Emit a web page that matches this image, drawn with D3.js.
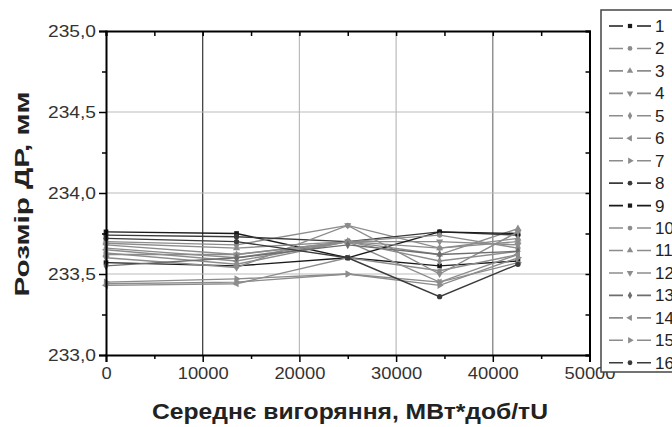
<!DOCTYPE html>
<html>
<head>
<meta charset="utf-8">
<script src="https://cdn.jsdelivr.net/npm/d3@7"></script>
<style>
body { margin: 0; background: #fff; }
text { font-family: "Liberation Sans", Arial, sans-serif; }
</style>
</head>
<body>
<script>
var burnup = [0, 13500, 25000, 34500, 42600];
var names = ["1","2","3","4","5","6","7","8","9","10","11","12","13","14","15","16"];
var s1  = [233.76, 233.75, 233.60, 233.55, 233.58];
var s2  = [233.70, 233.68, 233.80, 233.66, 233.70];
var s3  = [233.69, 233.66, 233.70, 233.62, 233.78];
var s4  = [233.68, 233.62, 233.70, 233.70, 233.68];
var s5  = [233.66, 233.60, 233.70, 233.58, 233.64];
var s6  = [233.65, 233.58, 233.70, 233.45, 233.62];
var s7  = [233.44, 233.45, 233.50, 233.43, 233.60];
var s8  = [233.74, 233.73, 233.70, 233.76, 233.74];
var s9  = [233.57, 233.55, 233.60, 233.76, 233.75];
var s10 = [233.63, 233.56, 233.70, 233.74, 233.66];
var s11 = [233.62, 233.62, 233.70, 233.66, 233.72];
var s12 = [233.60, 233.54, 233.80, 233.50, 233.76];
var s13 = [233.55, 233.60, 233.68, 233.62, 233.64];
var s14 = [233.43, 233.44, 233.60, 233.52, 233.62];
var s15 = [233.45, 233.47, 233.50, 233.45, 233.57];
var s16 = [233.72, 233.70, 233.60, 233.36, 233.56];
var allSeries = [s1,s2,s3,s4,s5,s6,s7,s8,s9,s10,s11,s12,s13,s14,s15,s16];
var xTicks = [0, 10000, 20000, 30000, 40000, 50000];
var yTicks = [233.0, 233.5, 234.0, 234.5, 235.0];

var colors = ["#1a1a1a","#8c8c8c","#8c8c8c","#8c8c8c","#8c8c8c","#8c8c8c","#8c8c8c","#3a3a3a",
              "#1a1a1a","#8c8c8c","#8c8c8c","#8c8c8c","#6e6e6e","#8c8c8c","#8c8c8c","#3a3a3a"];
var shapes = [d3.symbolSquare, d3.symbolCircle, "up", "down", d3.symbolDiamond, "left", "right", d3.symbolCircle,
              d3.symbolSquare, d3.symbolCircle, "up", "down", d3.symbolDiamond, "left", "right", d3.symbolCircle];

var svg = d3.select("body").append("svg").attr("width", 672).attr("height", 427);

var x = d3.scaleLinear().domain([0, 50000]).range([106, 589.5]);
var y = d3.scaleLinear().domain([233, 235]).range([355, 31]);

// grid
svg.append("g").selectAll("line").data(xTicks.slice(1, 5)).enter().append("line")
  .attr("x1", function(d){ return x(d); }).attr("x2", function(d){ return x(d); })
  .attr("y1", y(235)).attr("y2", y(233))
  .attr("stroke", function(d){ return d == 10000 ? "#333" : (d == 40000 ? "#777" : "#bbb"); })
  .attr("stroke-width", 1.2);
svg.append("g").selectAll("line").data(yTicks.slice(1, 4)).enter().append("line")
  .attr("x1", x(0)).attr("x2", x(50000))
  .attr("y1", function(d){ return y(d); }).attr("y2", function(d){ return y(d); })
  .attr("stroke", "#bbb").attr("stroke-width", 1.2);

function marker(shape, size) {
  if (shape == "up" || shape == "down" || shape == "left" || shape == "right")
    return d3.symbol().type(d3.symbolTriangle).size(size)();
  return d3.symbol().type(shape).size(size)();
}
function rot(shape) {
  if (shape == "down") return 180;
  if (shape == "left") return -90;
  if (shape == "right") return 90;
  return 0;
}

var line = d3.line().x(function(d, i){ return x(burnup[i]); }).y(function(d){ return y(d); });

allSeries.forEach(function(s, k) {
  var g = svg.append("g");
  g.append("path").datum(s).attr("d", line).attr("fill", "none")
    .attr("stroke", colors[k]).attr("stroke-width", 1.4);
  g.selectAll("path.m").data(s).enter().append("path").attr("class", "m")
    .attr("d", marker(shapes[k], 22))
    .attr("transform", function(d, i){ return "translate(" + x(burnup[i]) + "," + y(d) + ") rotate(" + rot(shapes[k]) + ")"; })
    .attr("fill", colors[k]);
});

// axes
var bx = svg.append("g").attr("transform", "translate(0," + y(233) + ")")
  .call(d3.axisBottom(x).tickValues(xTicks).tickSize(7).tickFormat(d3.format("d")));
bx.select(".domain").attr("stroke-width", 2);
bx.selectAll("text").attr("font-size", 16).attr("fill", "#333").attr("dy", "0.85em")
  .attr("textLength", function(d){ return String(d).length * 10.2; }).attr("lengthAdjust", "spacingAndGlyphs");
bx.selectAll("line").attr("stroke-width", 1.5);
svg.append("g").attr("transform", "translate(0," + y(233) + ")")
  .call(d3.axisBottom(x).tickValues([5000,15000,25000,35000,45000]).tickSize(4).tickFormat(""))
  .call(function(g){ g.select(".domain").remove(); g.selectAll("line").attr("stroke-width", 1.5); });

var ly = svg.append("g").attr("transform", "translate(" + x(0) + ",0)")
  .call(d3.axisLeft(y).tickValues(yTicks).tickSize(7)
    .tickFormat(function(d){ return d3.format(".1f")(d).replace(".", ","); }));
ly.select(".domain").attr("stroke-width", 2);
ly.selectAll("text").attr("font-size", 16).attr("fill", "#333")
  .attr("textLength", 48).attr("lengthAdjust", "spacingAndGlyphs");
ly.selectAll("line").attr("stroke-width", 1.5);
svg.append("g").attr("transform", "translate(" + x(0) + ",0)")
  .call(d3.axisLeft(y).tickValues([233.25,233.75,234.25,234.75]).tickSize(4).tickFormat(""))
  .call(function(g){ g.select(".domain").remove(); g.selectAll("line").attr("stroke-width", 1.5); });

var tx = svg.append("g").attr("transform", "translate(0," + y(235) + ")")
  .call(d3.axisBottom(x).tickValues(d3.range(0, 50001, 5000)).tickSize(5).tickFormat(""));
tx.select(".domain").attr("stroke-width", 2);
tx.selectAll("line").attr("stroke-width", 1.5);
var ry = svg.append("g").attr("transform", "translate(" + x(50000) + ",0)")
  .call(d3.axisLeft(y).tickValues(d3.range(233, 235.01, 0.25)).tickSize(4).tickFormat(""));
ry.select(".domain").attr("stroke-width", 2);
ry.selectAll("line").attr("stroke-width", 1.5);

// titles
svg.append("text").attr("x", 350).attr("y", 419).attr("text-anchor", "middle")
  .attr("font-size", 22).attr("font-weight", "bold").attr("fill", "#222")
  .attr("textLength", 396).attr("lengthAdjust", "spacingAndGlyphs")
  .text("Середнє вигоряння, МВт*доб/тU");
svg.append("text").attr("transform", "translate(29,194) rotate(-90)").attr("text-anchor", "middle")
  .attr("font-size", 21).attr("font-weight", "bold").attr("fill", "#222")
  .attr("textLength", 205).attr("lengthAdjust", "spacingAndGlyphs")
  .text("Розмір ДР, мм");

// legend
svg.append("rect").attr("x", 601).attr("y", 10).attr("width", 90).attr("height", 362)
  .attr("fill", "#fff").attr("stroke", "#444").attr("stroke-width", 1.5);
var leg = svg.append("g").selectAll("g").data(names).enter().append("g")
  .attr("transform", function(d, i){ return "translate(0," + (26 + i * 22.45) + ")"; });
leg.append("line").attr("x1", 609).attr("x2", 651).attr("y1", 0).attr("y2", 0)
  .attr("stroke", function(d, i){ return colors[i]; }).attr("stroke-width", 1.6);
leg.append("rect").attr("x", 623).attr("y", -2).attr("width", 14).attr("height", 4).attr("fill", "#fff");
leg.append("path").attr("d", function(d, i){ return marker(shapes[i], 18); })
  .attr("transform", function(d, i){ return "translate(630,0) rotate(" + rot(shapes[i]) + ")"; })
  .attr("fill", function(d, i){ return colors[i]; });
leg.append("text").attr("x", 655).attr("y", 0).attr("dy", "0.35em").attr("font-size", 17).attr("fill", "#222")
  .text(function(d){ return d; });
</script>
</body>
</html>
